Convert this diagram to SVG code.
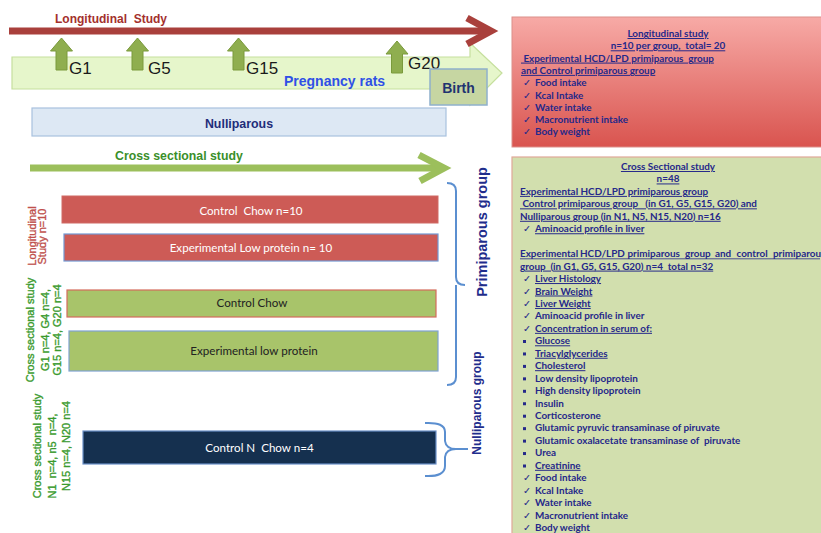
<svg xmlns="http://www.w3.org/2000/svg" width="821" height="533" viewBox="0 0 821 533" xml:space="preserve">
<style>
text{white-space:pre}
.hdr{font-family:"Liberation Sans",Arial,sans-serif;font-weight:bold}
.g{font-family:"Liberation Sans",Arial,sans-serif;font-size:17px;fill:#1a1a1a}
.box{font-family:Lato,"Liberation Sans",sans-serif;font-size:11.6px;text-anchor:middle}
.vl{font-family:"Liberation Sans",Arial,sans-serif;font-size:11px;text-anchor:middle;stroke-width:0.35}
.red{fill:#c0504d;stroke:#c0504d}
.grn{fill:#3a9a2e;stroke:#3a9a2e}
.pt{font-family:Lato,"Liberation Sans",sans-serif;font-weight:bold;font-size:9.9px;fill:#25288a}
.u{text-decoration:underline}
.ck{font-family:"DejaVu Sans",sans-serif;font-size:9.5px;fill:#25288a}
.brace{fill:none;stroke:#5b8fd0;stroke-width:2}
.garrow{fill:#8fae4f;stroke:#7a9a3c;stroke-width:1}
</style>
<defs>
<linearGradient id="redgrad" x1="0" y1="0" x2="0" y2="1">
<stop offset="0" stop-color="#f7aaa6"/>
<stop offset="1" stop-color="#d9544f"/>
</linearGradient>
<path id="up" d="M -11 13 L 0 0 L 11 13 L 5.5 13 L 5.5 32 L -5.5 32 L -5.5 13 Z"/>
</defs>

<!-- Pregnancy rats big arrow -->
<g id="pregnancy">
<path d="M 12 57 L 470 57 L 470 43 L 502 73 L 470 105 L 470 89 L 12 89 Z" fill="#e6f6cb" stroke="#c6df9e" stroke-width="1.2"/>
<text class="hdr" x="284" y="86" font-size="14" fill="#2f50e6">Pregnancy rats</text>
</g>

<!-- Longitudinal arrow -->
<g id="longitudinal-arrow">
<line x1="9" y1="31" x2="489" y2="31" stroke="#a9403c" stroke-width="7"/>
<path d="M 467 18 L 491 31 L 467 44" fill="none" stroke="#a9403c" stroke-width="7" stroke-linejoin="miter"/>
<text class="hdr" x="55" y="23" font-size="12" fill="#a3302c">Longitudinal  Study</text>
</g>

<!-- G markers -->
<g id="g1"><use href="#up" class="garrow" transform="translate(61.5,38)"/><text class="g" x="69" y="74">G1</text></g>
<g id="g5"><use href="#up" class="garrow" transform="translate(137.5,38)"/><text class="g" x="148" y="74">G5</text></g>
<g id="g15"><use href="#up" class="garrow" transform="translate(238.5,38)"/><text class="g" x="246" y="74">G15</text></g>
<g id="g20"><use href="#up" class="garrow" transform="translate(397,41)"/><text class="g" x="408" y="69">G20</text></g>

<g id="birth">
<rect x="430" y="69" width="57" height="36" fill="#c6d6a2" stroke="#8fb0cc" stroke-width="1.5"/>
<text class="hdr" x="458.5" y="93" font-size="14" fill="#1f3370" text-anchor="middle">Birth</text>
</g>

<g id="nulliparous">
<rect x="32" y="108" width="414" height="28" fill="#dde8f4" stroke="#a9c1de" stroke-width="1.2"/>
<text class="hdr" x="239" y="128" font-size="12.4" fill="#1f2d7a" text-anchor="middle">Nulliparous</text>
</g>

<!-- Cross sectional arrow -->
<g id="cross-arrow">
<line x1="30" y1="168" x2="443" y2="168" stroke="#9cbf5c" stroke-width="7"/>
<path d="M 419 155 L 444 168 L 420 181" fill="none" stroke="#9cbf5c" stroke-width="7"/>
<text class="hdr" x="115" y="160" font-size="12.3" fill="#3a8f2a">Cross sectional study</text>
</g>

<!-- Boxes -->
<g id="control-chow-10">
<rect x="62" y="196" width="376" height="27" fill="#cd5b56" stroke="#cf6a64" stroke-width="1"/>
<text class="box" x="251" y="214.5" fill="#ffffff">Control  Chow n=10</text>
</g>
<g id="exp-low-protein-10">
<rect x="64" y="234" width="374" height="27" fill="#cd5b56" stroke="#7298d2" stroke-width="1.2"/>
<text class="box" x="251" y="252" fill="#ffffff">Experimental Low protein n= 10</text>
</g>
<g id="control-chow">
<rect x="67" y="290" width="369" height="27" fill="#a8c46a" stroke="#d46c5c" stroke-width="1.2"/>
<text class="box" x="252" y="307" fill="#222222">Control Chow</text>
</g>
<g id="exp-low-protein">
<rect x="69" y="331" width="369" height="40" fill="#a8c46a" stroke="#7fa2d2" stroke-width="1.2"/>
<text class="box" x="254" y="355" fill="#222222">Experimental low protein</text>
</g>
<g id="control-n-chow">
<rect x="83" y="431" width="353" height="33" fill="#15304f" stroke="#6a90c8" stroke-width="1.2"/>
<text class="box" x="259.5" y="452" fill="#ffffff">Control N  Chow n=4</text>
</g>

<!-- Left vertical labels -->
<g id="label-longitudinal">
<text class="vl red" transform="translate(36,236) rotate(-90)">Longitudinal</text>
<text class="vl red" transform="translate(46,236.5) rotate(-90)">Study n=10</text>
</g>
<g id="label-cross1">
<text class="vl grn" transform="translate(34,330) rotate(-90)">Cross sectional study</text>
<text class="vl grn" transform="translate(49,330) rotate(-90)">G1 n=4, G4 n=4,</text>
<text class="vl grn" transform="translate(61,330) rotate(-90)">G15 n=4, G20 n=4</text>
</g>
<g id="label-cross2">
<text class="vl grn" transform="translate(41,446) rotate(-90)">Cross sectional study</text>
<text class="vl grn" transform="translate(56,456) rotate(-90)">N1  n=4, n5  n=4,</text>
<text class="vl grn" transform="translate(70,446) rotate(-90)">N15 n=4, N20 n=4</text>
</g>

<!-- Braces -->
<g id="connectors">
<path class="brace" d="M 447 183 Q 456 183 456 191 L 456 277 Q 456 285 465 285 M 456 285 Q 456 285 456 293 L 456 377 Q 456 385 447 385"/>
<path class="brace" d="M 425 423 Q 445 422 445 432 L 445 441 Q 446 449 456 449 L 468 449 M 456 449 Q 446 449 445 457 L 445 466 Q 445 477 425 476"/>
</g>
<g id="primiparous-label">
<text class="hdr" transform="translate(486.5,232) rotate(-90)" font-size="14.5" fill="#1f2d8c" text-anchor="middle">Primiparous group</text>
</g>
<g id="nulliparous-label">
<text class="hdr" transform="translate(481,403) rotate(-90)" font-size="12" fill="#1f2d8c" text-anchor="middle">Nulliparous group</text>
</g>

<!-- Longitudinal panel -->
<g id="longitudinal-panel">
<rect x="512" y="17" width="320" height="130" fill="url(#redgrad)" stroke="#dc8f8a" stroke-width="1"/>
<text class="pt u" x="668" y="37" text-anchor="middle">Longitudinal study</text>
<text class="pt u" x="668" y="49.3" text-anchor="middle">n=10 per group,  total= 20</text>
<text class="pt u" x="521" y="61.6"> Experimental HCD/LPD primiparous  group</text>
<text class="pt u" x="521" y="73.9">and Control primiparous group</text>
<text class="ck" x="523" y="86.2">✓</text><text class="pt" x="535" y="86.2">Food intake</text>
<text class="ck" x="523" y="98.5">✓</text><text class="pt" x="535" y="98.5">Kcal Intake</text>
<text class="ck" x="523" y="110.8">✓</text><text class="pt" x="535" y="110.8">Water intake</text>
<text class="ck" x="523" y="123.1">✓</text><text class="pt" x="535" y="123.1">Macronutrient intake</text>
<text class="ck" x="523" y="135.4">✓</text><text class="pt" x="535" y="135.4">Body weight</text>
</g>

<!-- Cross sectional panel -->
<g id="cross-panel">
<rect x="512" y="157" width="320" height="390" fill="#d2dfae" stroke="#e0a898" stroke-width="1.2"/>
<text class="pt u" x="668" y="170" text-anchor="middle">Cross Sectional study</text>
<text class="pt u" x="668" y="182.45" text-anchor="middle">n=48</text>
<text class="pt u" x="520" y="194.9">Experimental HCD/LPD primiparous group</text>
<text class="pt u" x="520" y="207.35"> Control primiparous group   (in G1, G5, G15, G20) and</text>
<text class="pt u" x="520" y="219.8">Nulliparous group (in N1, N5, N15, N20) n=16</text>
<text class="ck" x="523" y="232.25">✓</text><text class="pt u" x="535" y="232.25">Aminoacid profile in liver</text>
<text class="pt" y="257.15"><tspan x="520">Experimental</tspan><tspan x="580">HCD/LPD</tspan><tspan x="627.5">primiparous</tspan><tspan x="685">group</tspan><tspan x="715">and</tspan><tspan x="736.5">control</tspan><tspan x="773">primiparou</tspan></text>
<line x1="520" y1="258.8" x2="820" y2="258.8" stroke="#25288a" stroke-width="0.8"/>
<text class="pt u" x="520" y="269.6">group  (in G1, G5, G15, G20) n=4  total n=32</text>
<text class="ck" x="523" y="282.05">✓</text><text class="pt u" x="535" y="282.05">Liver Histology</text>
<text class="ck" x="523" y="294.5">✓</text><text class="pt u" x="535" y="294.5">Brain Weight</text>
<text class="ck" x="523" y="306.95">✓</text><text class="pt u" x="535" y="306.95">Liver Weight</text>
<text class="ck" x="523" y="319.4">✓</text><text class="pt" x="535" y="319.4">Aminoacid profile in liver</text>
<text class="ck" x="523" y="331.85">✓</text><text class="pt u" x="535" y="331.85">Concentration in serum of:</text>
<g fill="#25288a">
<rect x="523" y="340" width="3" height="3"/>
<rect x="523" y="352.45" width="3" height="3"/>
<rect x="523" y="364.9" width="3" height="3"/>
<rect x="523" y="377.35" width="3" height="3"/>
<rect x="523" y="389.8" width="3" height="3"/>
<rect x="523" y="402.25" width="3" height="3"/>
<rect x="523" y="414.7" width="3" height="3"/>
<rect x="523" y="427.15" width="3" height="3"/>
<rect x="523" y="439.6" width="3" height="3"/>
<rect x="523" y="452.05" width="3" height="3"/>
<rect x="523" y="464.5" width="3" height="3"/>
</g>
<text class="pt u" x="535" y="344.3">Glucose</text>
<text class="pt u" x="535" y="356.75">Triacylglycerides</text>
<text class="pt u" x="535" y="369.2">Cholesterol</text>
<text class="pt" x="535" y="381.65">Low density lipoprotein</text>
<text class="pt" x="535" y="394.1">High density lipoprotein</text>
<text class="pt" x="535" y="406.55">Insulin</text>
<text class="pt" x="535" y="419">Corticosterone</text>
<text class="pt" x="535" y="431.45">Glutamic pyruvic transaminase of piruvate</text>
<text class="pt" x="535" y="443.9">Glutamic oxalacetate transaminase of  piruvate</text>
<text class="pt" x="535" y="456.35">Urea</text>
<text class="pt u" x="535" y="468.8">Creatinine</text>
<text class="ck" x="523" y="481.25">✓</text><text class="pt" x="535" y="481.25">Food intake</text>
<text class="ck" x="523" y="493.7">✓</text><text class="pt" x="535" y="493.7">Kcal Intake</text>
<text class="ck" x="523" y="506.15">✓</text><text class="pt" x="535" y="506.15">Water intake</text>
<text class="ck" x="523" y="518.6">✓</text><text class="pt" x="535" y="518.6">Macronutrient intake</text>
<text class="ck" x="523" y="531.05">✓</text><text class="pt" x="535" y="531.05">Body weight</text>
</g>
</svg>
